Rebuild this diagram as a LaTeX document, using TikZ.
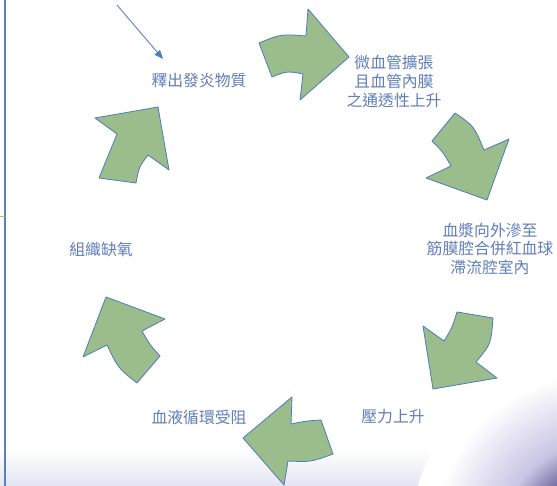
\documentclass[tikz,border=0pt]{standalone}
\usepackage{fontspec}
\usepackage{xcolor}
\usepackage{tikz}
\usetikzlibrary{arrows.meta}
\newfontfamily\cjk{Noto Sans CJK TC}
\definecolor{arrowfill}{RGB}{155,189,139}
\definecolor{arrowline}{RGB}{79,124,190}
\definecolor{labelblue}{RGB}{96,125,186}
\definecolor{glowdark}{RGB}{72,62,125}
\definecolor{glowmid}{RGB}{200,196,228}
\definecolor{edgeblue}{RGB}{88,128,200}
\definecolor{ticklime}{RGB}{160,205,70}
\pgfdeclareradialshading{corner_glow}{\pgfpoint{0bp}{0bp}}{%
    color(0bp)=(glowdark); color(7bp)=(glowdark); color(13bp)=(glowmid);
    color(22bp)=(white); color(50bp)=(white)}
\tikzset{
    arrow_shape/.style = {draw=arrowline, fill=arrowfill, line width=0.7pt, line join=round},
    label_text/.style = {align=center, inner sep=0pt, text=labelblue, font=\cjk\fontsize{13.5}{16.2}\selectfont},
    pointer/.style = {draw=arrowline, line width=0.7pt, -{Triangle[length=7.5pt,width=6pt]}}
}

\begin{document}
\begin{tikzpicture}[x=0.03cm, y=-0.03cm]

    \useasboundingbox (0,0) rectangle (557,486);

    % slide background
    \fill[white] (0,0) rectangle (557,486);
    \shade[top color=white, bottom color={rgb,255:red,226;green,229;blue,242}] (0,450) rectangle (557,486);
    \begin{scope}
        \clip (0,0) rectangle (557,486);
        \shade[shading=corner_glow] (600,540) circle (190);
    \end{scope}
    \draw[edgeblue, line width=0.9pt] (5,0) -- (5,486);
    \draw[ticklime, line width=0.9pt] (0,216.5) -- (5,216.5);

    % labels
    \node[label_text] (release) at (199,81) {釋出發炎物質};
    \node[label_text] (dilate) at (394,81) {微血管擴張\\且血管內膜\\之通透性上升};
    \node[label_text] (plasma) at (490,249) {血漿向外滲至\\筋膜腔合併紅血球\\滯流腔室內};
    \node[label_text] (pressure) at (393,417) {壓力上升};
    \node[label_text] (blocked) at (199,417) {血液循環受阻};
    \node[label_text] (hypoxia) at (101,249) {組織缺氧};

    % cycle arrows
    \draw[arrow_shape] (259,43) -- (272,77) .. controls (287,71) .. (303,74) -- (300,100)
        -- (349,57) -- (308,9) -- (306,36) .. controls (281,34) .. (259,43) -- cycle;
    \draw[arrow_shape] (455,113) -- (432,141) .. controls (443,152) .. (451,166) -- (426,178)
        -- (487,200) -- (509,139) -- (484,150) .. controls (474,126) .. (455,113) -- cycle;
    \draw[arrow_shape] (493,318) -- (457,312) .. controls (452,328) .. (444,341) -- (423,326)
        -- (433,389) -- (497,378) -- (476,362) .. controls (491,344) .. (493,318) -- cycle;
    \draw[arrow_shape] (333,454) -- (321,420) .. controls (306,421) .. (291,424) -- (292,397)
        -- (243,438) -- (284,485) -- (288,461) .. controls (311,462) .. (333,454) -- cycle;
    \draw[arrow_shape] (137,383) -- (160,356) .. controls (150,345) .. (142,331) -- (165,319)
        -- (106,297) -- (83,357) -- (107,345) .. controls (118,368) .. (137,383) -- cycle;
    \draw[arrow_shape] (99,178) -- (117,134) -- (95,118) -- (158,107) -- (169,170)
        -- (148,155) .. controls (139,167) .. (136,183) -- cycle;

    % pointer into the cycle
    \coordinate (pointer_start) at (117,5);
    \coordinate (pointer_end) at (163,59);
    \draw[pointer] (pointer_start) -- (pointer_end);

\end{tikzpicture}
\end{document}
